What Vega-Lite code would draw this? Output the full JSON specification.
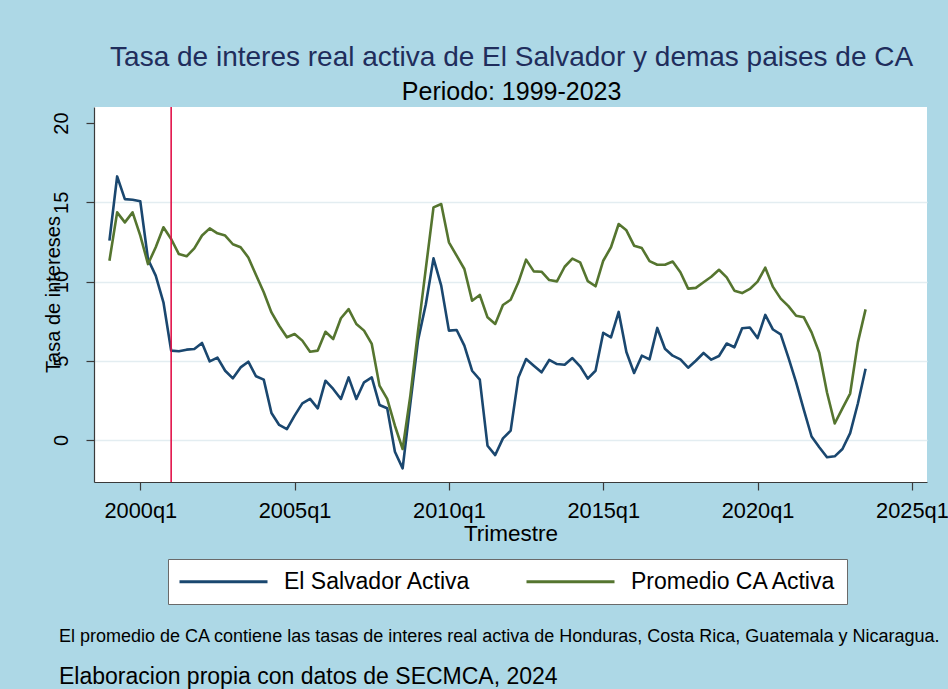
{
  "$schema": "https://vega.github.io/schema/vega-lite/v6.json",
  "background": "#add8e6",
  "padding": {"left": 43, "top": 44, "right": 4, "bottom": 4},
  "autosize": {"type": "pad"},
  "title": {
    "text": "Tasa de interes real activa de El Salvador y demas paises de CA",
    "subtitle": "Periodo: 1999-2023",
    "anchor": "middle",
    "dx": 16,
    "fontSize": 28,
    "fontWeight": "normal",
    "color": "#1f2d5c",
    "subtitleFontSize": 25,
    "subtitleColor": "#000000",
    "subtitlePadding": 8,
    "offset": 1
  },
  "vconcat": [
    {
      "width": 833,
      "height": 375,
      "title": {
        "text": "El promedio de CA contiene las tasas de interes real activa de Honduras, Costa Rica, Guatemala y Nicaragua.",
        "subtitle": "Elaboracion propia con datos de SECMCA, 2024",
        "orient": "bottom",
        "anchor": "start",
        "fontSize": 18,
        "fontWeight": "normal",
        "color": "#000000",
        "subtitleFontSize": 23,
        "subtitleColor": "#000000",
        "subtitlePadding": 20,
        "offset": 83,
        "dx": 16
      },
      "layer": [
        {
          "data": {"values": [
{"t":1999,"serie":"El Salvador Activa","valor":12.58},{"t":1999.25,"serie":"El Salvador Activa","valor":16.63},{"t":1999.5,"serie":"El Salvador Activa","valor":15.2},{"t":1999.75,"serie":"El Salvador Activa","valor":15.16},
{"t":2000,"serie":"El Salvador Activa","valor":15.06},{"t":2000.25,"serie":"El Salvador Activa","valor":11.4},{"t":2000.5,"serie":"El Salvador Activa","valor":10.37},{"t":2000.75,"serie":"El Salvador Activa","valor":8.69},
{"t":2001,"serie":"El Salvador Activa","valor":5.64},{"t":2001.25,"serie":"El Salvador Activa","valor":5.6},{"t":2001.5,"serie":"El Salvador Activa","valor":5.7},{"t":2001.75,"serie":"El Salvador Activa","valor":5.74},
{"t":2002,"serie":"El Salvador Activa","valor":6.12},{"t":2002.25,"serie":"El Salvador Activa","valor":4.96},{"t":2002.5,"serie":"El Salvador Activa","valor":5.2},{"t":2002.75,"serie":"El Salvador Activa","valor":4.37},
{"t":2003,"serie":"El Salvador Activa","valor":3.89},{"t":2003.25,"serie":"El Salvador Activa","valor":4.58},{"t":2003.5,"serie":"El Salvador Activa","valor":4.94},{"t":2003.75,"serie":"El Salvador Activa","valor":4.02},
{"t":2004,"serie":"El Salvador Activa","valor":3.81},{"t":2004.25,"serie":"El Salvador Activa","valor":1.7},{"t":2004.5,"serie":"El Salvador Activa","valor":0.95},{"t":2004.75,"serie":"El Salvador Activa","valor":0.69},
{"t":2005,"serie":"El Salvador Activa","valor":1.54},{"t":2005.25,"serie":"El Salvador Activa","valor":2.31},{"t":2005.5,"serie":"El Salvador Activa","valor":2.59},{"t":2005.75,"serie":"El Salvador Activa","valor":2.0},
{"t":2006,"serie":"El Salvador Activa","valor":3.74},{"t":2006.25,"serie":"El Salvador Activa","valor":3.22},{"t":2006.5,"serie":"El Salvador Activa","valor":2.59},{"t":2006.75,"serie":"El Salvador Activa","valor":3.95},
{"t":2007,"serie":"El Salvador Activa","valor":2.59},{"t":2007.25,"serie":"El Salvador Activa","valor":3.64},{"t":2007.5,"serie":"El Salvador Activa","valor":3.95},{"t":2007.75,"serie":"El Salvador Activa","valor":2.21},
{"t":2008,"serie":"El Salvador Activa","valor":2.0},{"t":2008.25,"serie":"El Salvador Activa","valor":-0.74},{"t":2008.5,"serie":"El Salvador Activa","valor":-1.79},{"t":2008.75,"serie":"El Salvador Activa","valor":2.3},
{"t":2009,"serie":"El Salvador Activa","valor":6.3},{"t":2009.25,"serie":"El Salvador Activa","valor":8.55},{"t":2009.5,"serie":"El Salvador Activa","valor":11.46},{"t":2009.75,"serie":"El Salvador Activa","valor":9.74},
{"t":2010,"serie":"El Salvador Activa","valor":6.9},{"t":2010.25,"serie":"El Salvador Activa","valor":6.94},{"t":2010.5,"serie":"El Salvador Activa","valor":5.95},{"t":2010.75,"serie":"El Salvador Activa","valor":4.37},
{"t":2011,"serie":"El Salvador Activa","valor":3.81},{"t":2011.25,"serie":"El Salvador Activa","valor":-0.36},{"t":2011.5,"serie":"El Salvador Activa","valor":-0.95},{"t":2011.75,"serie":"El Salvador Activa","valor":0.1},
{"t":2012,"serie":"El Salvador Activa","valor":0.59},{"t":2012.25,"serie":"El Salvador Activa","valor":3.95},{"t":2012.5,"serie":"El Salvador Activa","valor":5.11},{"t":2012.75,"serie":"El Salvador Activa","valor":4.69},
{"t":2013,"serie":"El Salvador Activa","valor":4.27},{"t":2013.25,"serie":"El Salvador Activa","valor":5.05},{"t":2013.5,"serie":"El Salvador Activa","valor":4.79},{"t":2013.75,"serie":"El Salvador Activa","valor":4.75},
{"t":2014,"serie":"El Salvador Activa","valor":5.17},{"t":2014.25,"serie":"El Salvador Activa","valor":4.65},{"t":2014.5,"serie":"El Salvador Activa","valor":3.87},{"t":2014.75,"serie":"El Salvador Activa","valor":4.37},
{"t":2015,"serie":"El Salvador Activa","valor":6.76},{"t":2015.25,"serie":"El Salvador Activa","valor":6.48},{"t":2015.5,"serie":"El Salvador Activa","valor":8.08},{"t":2015.75,"serie":"El Salvador Activa","valor":5.55},
{"t":2016,"serie":"El Salvador Activa","valor":4.23},{"t":2016.25,"serie":"El Salvador Activa","valor":5.32},{"t":2016.5,"serie":"El Salvador Activa","valor":5.09},{"t":2016.75,"serie":"El Salvador Activa","valor":7.07},
{"t":2017,"serie":"El Salvador Activa","valor":5.76},{"t":2017.25,"serie":"El Salvador Activa","valor":5.32},{"t":2017.5,"serie":"El Salvador Activa","valor":5.09},{"t":2017.75,"serie":"El Salvador Activa","valor":4.56},
{"t":2018,"serie":"El Salvador Activa","valor":5.0},{"t":2018.25,"serie":"El Salvador Activa","valor":5.49},{"t":2018.5,"serie":"El Salvador Activa","valor":5.07},{"t":2018.75,"serie":"El Salvador Activa","valor":5.3},
{"t":2019,"serie":"El Salvador Activa","valor":6.09},{"t":2019.25,"serie":"El Salvador Activa","valor":5.85},{"t":2019.5,"serie":"El Salvador Activa","valor":7.05},{"t":2019.75,"serie":"El Salvador Activa","valor":7.1},
{"t":2020,"serie":"El Salvador Activa","valor":6.43},{"t":2020.25,"serie":"El Salvador Activa","valor":7.89},{"t":2020.5,"serie":"El Salvador Activa","valor":6.97},{"t":2020.75,"serie":"El Salvador Activa","valor":6.66},
{"t":2021,"serie":"El Salvador Activa","valor":5.2},{"t":2021.25,"serie":"El Salvador Activa","valor":3.64},{"t":2021.5,"serie":"El Salvador Activa","valor":1.9},{"t":2021.75,"serie":"El Salvador Activa","valor":0.22},
{"t":2022,"serie":"El Salvador Activa","valor":-0.46},{"t":2022.25,"serie":"El Salvador Activa","valor":-1.09},{"t":2022.5,"serie":"El Salvador Activa","valor":-1.03},{"t":2022.75,"serie":"El Salvador Activa","valor":-0.57},
{"t":2023,"serie":"El Salvador Activa","valor":0.43},{"t":2023.25,"serie":"El Salvador Activa","valor":2.3},{"t":2023.5,"serie":"El Salvador Activa","valor":4.5},
{"t":1999,"serie":"Promedio CA Activa","valor":11.31},{"t":1999.25,"serie":"Promedio CA Activa","valor":14.36},{"t":1999.5,"serie":"Promedio CA Activa","valor":13.73},{"t":1999.75,"serie":"Promedio CA Activa","valor":14.36},
{"t":2000,"serie":"Promedio CA Activa","valor":12.9},{"t":2000.25,"serie":"Promedio CA Activa","valor":11.1},{"t":2000.5,"serie":"Promedio CA Activa","valor":12.16},{"t":2000.75,"serie":"Promedio CA Activa","valor":13.42},
{"t":2001,"serie":"Promedio CA Activa","valor":12.68},{"t":2001.25,"serie":"Promedio CA Activa","valor":11.73},{"t":2001.5,"serie":"Promedio CA Activa","valor":11.59},{"t":2001.75,"serie":"Promedio CA Activa","valor":12.09},
{"t":2002,"serie":"Promedio CA Activa","valor":12.9},{"t":2002.25,"serie":"Promedio CA Activa","valor":13.35},{"t":2002.5,"serie":"Promedio CA Activa","valor":13.04},{"t":2002.75,"serie":"Promedio CA Activa","valor":12.9},
{"t":2003,"serie":"Promedio CA Activa","valor":12.35},{"t":2003.25,"serie":"Promedio CA Activa","valor":12.16},{"t":2003.5,"serie":"Promedio CA Activa","valor":11.52},{"t":2003.75,"serie":"Promedio CA Activa","valor":10.41},
{"t":2004,"serie":"Promedio CA Activa","valor":9.32},{"t":2004.25,"serie":"Promedio CA Activa","valor":8.05},{"t":2004.5,"serie":"Promedio CA Activa","valor":7.21},{"t":2004.75,"serie":"Promedio CA Activa","valor":6.48},
{"t":2005,"serie":"Promedio CA Activa","valor":6.69},{"t":2005.25,"serie":"Promedio CA Activa","valor":6.27},{"t":2005.5,"serie":"Promedio CA Activa","valor":5.57},{"t":2005.75,"serie":"Promedio CA Activa","valor":5.64},
{"t":2006,"serie":"Promedio CA Activa","valor":6.83},{"t":2006.25,"serie":"Promedio CA Activa","valor":6.37},{"t":2006.5,"serie":"Promedio CA Activa","valor":7.68},{"t":2006.75,"serie":"Promedio CA Activa","valor":8.26},
{"t":2007,"serie":"Promedio CA Activa","valor":7.32},{"t":2007.25,"serie":"Promedio CA Activa","valor":6.9},{"t":2007.5,"serie":"Promedio CA Activa","valor":6.06},{"t":2007.75,"serie":"Promedio CA Activa","valor":3.43},
{"t":2008,"serie":"Promedio CA Activa","valor":2.59},{"t":2008.25,"serie":"Promedio CA Activa","valor":0.9},{"t":2008.5,"serie":"Promedio CA Activa","valor":-0.57},{"t":2008.75,"serie":"Promedio CA Activa","valor":2.8},
{"t":2009,"serie":"Promedio CA Activa","valor":6.9},{"t":2009.25,"serie":"Promedio CA Activa","valor":10.8},{"t":2009.5,"serie":"Promedio CA Activa","valor":14.68},{"t":2009.75,"serie":"Promedio CA Activa","valor":14.89},
{"t":2010,"serie":"Promedio CA Activa","valor":12.47},{"t":2010.25,"serie":"Promedio CA Activa","valor":11.63},{"t":2010.5,"serie":"Promedio CA Activa","valor":10.79},{"t":2010.75,"serie":"Promedio CA Activa","valor":8.79},
{"t":2011,"serie":"Promedio CA Activa","valor":9.15},{"t":2011.25,"serie":"Promedio CA Activa","valor":7.74},{"t":2011.5,"serie":"Promedio CA Activa","valor":7.32},{"t":2011.75,"serie":"Promedio CA Activa","valor":8.52},
{"t":2012,"serie":"Promedio CA Activa","valor":8.85},{"t":2012.25,"serie":"Promedio CA Activa","valor":9.95},{"t":2012.5,"serie":"Promedio CA Activa","valor":11.38},{"t":2012.75,"serie":"Promedio CA Activa","valor":10.64},
{"t":2013,"serie":"Promedio CA Activa","valor":10.62},{"t":2013.25,"serie":"Promedio CA Activa","valor":10.09},{"t":2013.5,"serie":"Promedio CA Activa","valor":10.01},{"t":2013.75,"serie":"Promedio CA Activa","valor":10.93},
{"t":2014,"serie":"Promedio CA Activa","valor":11.44},{"t":2014.25,"serie":"Promedio CA Activa","valor":11.21},{"t":2014.5,"serie":"Promedio CA Activa","valor":10.02},{"t":2014.75,"serie":"Promedio CA Activa","valor":9.7},
{"t":2015,"serie":"Promedio CA Activa","valor":11.31},{"t":2015.25,"serie":"Promedio CA Activa","valor":12.16},{"t":2015.5,"serie":"Promedio CA Activa","valor":13.63},{"t":2015.75,"serie":"Promedio CA Activa","valor":13.23},
{"t":2016,"serie":"Promedio CA Activa","valor":12.26},{"t":2016.25,"serie":"Promedio CA Activa","valor":12.11},{"t":2016.5,"serie":"Promedio CA Activa","valor":11.29},{"t":2016.75,"serie":"Promedio CA Activa","valor":11.06},
{"t":2017,"serie":"Promedio CA Activa","valor":11.06},{"t":2017.25,"serie":"Promedio CA Activa","valor":11.26},{"t":2017.5,"serie":"Promedio CA Activa","valor":10.58},{"t":2017.75,"serie":"Promedio CA Activa","valor":9.55},
{"t":2018,"serie":"Promedio CA Activa","valor":9.6},{"t":2018.25,"serie":"Promedio CA Activa","valor":9.95},{"t":2018.5,"serie":"Promedio CA Activa","valor":10.3},{"t":2018.75,"serie":"Promedio CA Activa","valor":10.74},
{"t":2019,"serie":"Promedio CA Activa","valor":10.26},{"t":2019.25,"serie":"Promedio CA Activa","valor":9.42},{"t":2019.5,"serie":"Promedio CA Activa","valor":9.27},{"t":2019.75,"serie":"Promedio CA Activa","valor":9.53},
{"t":2020,"serie":"Promedio CA Activa","valor":9.99},{"t":2020.25,"serie":"Promedio CA Activa","valor":10.87},{"t":2020.5,"serie":"Promedio CA Activa","valor":9.66},{"t":2020.75,"serie":"Promedio CA Activa","valor":8.92},
{"t":2021,"serie":"Promedio CA Activa","valor":8.45},{"t":2021.25,"serie":"Promedio CA Activa","valor":7.84},{"t":2021.5,"serie":"Promedio CA Activa","valor":7.74},{"t":2021.75,"serie":"Promedio CA Activa","valor":6.79},
{"t":2022,"serie":"Promedio CA Activa","valor":5.51},{"t":2022.25,"serie":"Promedio CA Activa","valor":3.0},{"t":2022.5,"serie":"Promedio CA Activa","valor":1.04},{"t":2022.75,"serie":"Promedio CA Activa","valor":2.0},
{"t":2023,"serie":"Promedio CA Activa","valor":2.93},{"t":2023.25,"serie":"Promedio CA Activa","valor":6.16},{"t":2023.5,"serie":"Promedio CA Activa","valor":8.24}
          ]},
          "mark": {"type": "line", "strokeWidth": 2.6, "strokeJoin": "round"},
          "encoding": {
            "x": {
              "field": "t", "type": "quantitative",
              "scale": {"domain": [1998.5, 2025.49], "nice": false, "zero": false},
              "axis": {
                "values": [2000, 2005, 2010, 2015, 2020, 2025],
                "labelExpr": "datum.value + 'q1'",
                "labelFontSize": 21.8, "labelPadding": 10, "labelFlush": false, "labelOverlap": false,
                "tickSize": 8, "grid": false,
                "title": "Trimestre", "titleFontSize": 22.5, "titlePadding": 1
              }
            },
            "y": {
              "field": "valor", "type": "quantitative",
              "scale": {"domain": [-2.65, 21.01], "nice": false, "zero": false},
              "axis": {
                "values": [0, 5, 10, 15, 20],
                "labelAngle": -90, "labelAlign": "center", "labelBaseline": "alphabetic",
                "labelFontSize": 20, "labelPadding": 19, "tickSize": 8,
                "grid": true, "gridColor": "#e3edf1", "gridWidth": 1.5,
                "gridOpacity": {"condition": {"test": "datum.value === 20", "value": 0}, "value": 1},
                "title": "Tasa de intereses", "titleFontSize": 20, "titleAngle": -90,
                "titleX": -41, "titleY": 187, "titleAlign": "center", "titleBaseline": "middle"
              }
            },
            "color": {
              "field": "serie", "type": "nominal",
              "scale": {"domain": ["El Salvador Activa", "Promedio CA Activa"], "range": ["#1a476f", "#55752f"]},
              "legend": {
                "title": null, "orient": "none", "legendX": 74, "legendY": 452,
                "direction": "horizontal",
                "fillColor": "#ffffff", "strokeColor": "#6a6a6a", "padding": 10,
                "symbolType": "M-1,0H7", "symbolSize": 484, "symbolStrokeWidth": 3,
                "labelFontSize": 23, "labelOffset": 81, "labelLimit": 400, "columnPadding": 49, "labelColor": "#000000"
              }
            }
          }
        },
        {
          "data": {"values": [{"t": 2001}]},
          "mark": {"type": "rule", "color": "#e2134a", "strokeWidth": 1.6},
          "encoding": {"x": {"field": "t", "type": "quantitative"}}
        }
      ]
    }
  ],
  "config": {
    "font": "Liberation Sans",
    "view": {"stroke": null, "fill": "#ffffff"},
    "axis": {
      "domainColor": "#3a3a3a", "tickColor": "#3a3a3a", "labelColor": "#000000",
      "titleColor": "#000000", "titleFontWeight": "normal", "domainWidth": 1.2, "tickWidth": 1.2
    }
  }
}
